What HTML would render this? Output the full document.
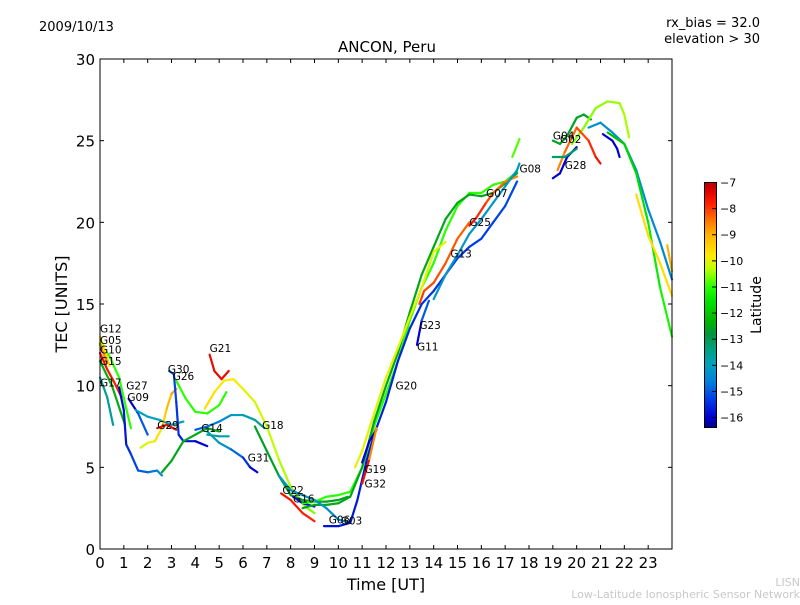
<!DOCTYPE html>
<html><head><meta charset="utf-8"><style>
body{margin:0;background:#fff;}
svg text{font-family:"DejaVu Sans","Liberation Sans",sans-serif;}
</style></head><body>
<svg id="chart" width="800" height="600" xmlns="http://www.w3.org/2000/svg">
<defs>
<linearGradient id="cbar" x1="0" y1="1" x2="0" y2="0"></linearGradient>
</defs>
<rect width="800" height="600" fill="#fff"/>
<text x="39" y="31" font-size="13">2009/10/13</text>
<text x="387" y="52" font-size="15" text-anchor="middle">ANCON, Peru</text>
<text x="760" y="27" font-size="13" text-anchor="end">rx_bias = 32.0</text>
<text x="760" y="43" font-size="13" text-anchor="end">elevation &gt; 30</text>
<g id="tracks"></g>
<g id="labels"></g>
<rect x="100" y="59" width="572" height="490" fill="none" stroke="#000" stroke-width="1"/>
<g id="axes"></g>
<text x="386" y="590" font-size="16" text-anchor="middle">Time [UT]</text>
<text x="67" y="304" font-size="16" text-anchor="middle" transform="rotate(-90 67 304)">TEC [UNITS]</text>
<rect x="704.5" y="182.5" width="12" height="245" fill="url(#cbar)" stroke="#000" stroke-width="1"/>
<g id="cbticks"></g>
<text x="761" y="305" font-size="14" text-anchor="middle" transform="rotate(-90 761 305)">Latitude</text>
<text x="800" y="586" font-size="11" fill="#c8c8c8" text-anchor="end">LISN</text>
<text x="800" y="598" font-size="11" fill="#c8c8c8" text-anchor="end">Low-Latitude Ionospheric Sensor Network</text>
</svg>
<script>
const xTicks=[0,1,2,3,4,5,6,7,8,9,10,11,12,13,14,15,16,17,18,19,20,21,22,23];
const yTicks=[0,5,10,15,20,25,30];
const cbTicks=[-7,-8,-9,-10,-11,-12,-13,-14,-15,-16];
const trackNames=["G12","G05","G10","G15","G17","G27a","G27","G09","G09b","G29a","G29","G30","G26","G26b","G21","G18a","G14","G18","G31","G14b","G22","G16","G20a","G20b","G06a","G06","G20","G19","G32","G11","G13","G25","G07","G08","G04","Gpk","Gdn1","Gdn2","Gdn3","G28","G02","Gpk2","G04b","Gend"];
const trackLats=[[-11,-11],[-9.6,-9.6],[-8.6,-8.6],[-7.6,-7.8],[-13.6,-13.6],[-12.4,-12.4],[-16,-14.5],[-16,-15],[-14,-14],[-10.2,-8.8],[-7.5,-7.5],[-15,-16],[-11,-11],[-12.5,-12.5],[-7.5,-7.5],[-9.6,-10.6],[-15,-13.5],[-12.6,-12.6],[-13.8,-16],[-13.8,-13.8],[-7.6,-7.8],[-15.8,-15.8],[-11,-11],[-12.5,-12.5],[-14.2,-14.5],[-15.8,-15.2],[-10,-10],[-16,-16],[-7.6,-8.6],[-16,-15],[-8,-8.3],[-7.6,-8.6],[-14.2,-14.2],[-10.8,-10.8],[-12.6,-12.6],[-10.6,-10.4],[-14.3,-14.5],[-12.2,-11.2],[-9.6,-9.6],[-8.6,-7.6],[-16,-16],[-16,-16],[-13.2,-13.2],[-9,-9]];
const trackTimes=[
[0,0.4,0.8,1.1,1.3],[0,0.2,0.4],[0,0.3],[0,0.3,0.6,0.9],[0,0.3,0.55],[0,0.5,1.05],
[0.8,1,1.1,1.3,1.6,2,2.4,2.6],[1.2,1.6,2],[1.5,2,2.5,3,3.5],
[1.7,2,2.3,2.6,2.8,3,3.2],[2.4,2.8,3.2],[2.9,3.1,3.2,3.3,3.5,4,4.5],
[3.2,3.6,4,4.5,5,5.3],[2.6,3,3.5,4,4.5,5],[4.6,4.8,5.1,5.4],
[4.4,4.8,5.2,5.6,6,6.5,7,7.5,8,8.6,9],[4,4.5,5,5.5,6,6.5,6.9],
[6.5,7,7.5,8,8.5,9,9.5,10,10.4],[4.5,5,5.5,6,6.3,6.6],[4.5,5,5.4],
[7.6,8,8.5,9],[8.1,8.5,9],
[8.5,9,9.5,10,10.5,11,11.5,12,12.5,13,13.5,14,14.5,15,15.5,16,16.5,17,17.5],
[8.5,9,9.5,10,10.5,11,11.5,12,12.5,13,13.5,14,14.5,15,15.5,16,16.5,17,17.5],
[7.5,8,9,9.5,10,10.5],
[9.4,10,10.5,10.8,11.2,11.5,12,12.5,13,13.5,14,14.5,15,15.5,16,16.5,17,17.5],
[10.7,11,11.5,12,12.5,13,13.5,14,14.5],
[11,11.3,11.6],[11,11.3,11.6],[13.3,13.5,13.8],[13.4,13.6,14,14.5,15,15.5],
[15.5,15.8,16.2,16.5,17,17.5],[14,14.5,15,15.5,16,16.5,17,17.5,17.6],[17.3,17.6],
[19,19.3,19.6,20,20.3,20.6],[19.8,20.3,20.8,21.3,21.8,22,22.2],
[20.5,21,21.5,22,22.5,23,23.5,24],[21.3,21.7,22,22.5,23,23.5,24],[22.5,23,23.5,24],
[19.2,19.5,20,20.5,20.8,21],[19,19.3,19.6,20],[21.1,21.5,21.7,21.8],[19,19.5,20],[23.8,24]];
const trackTec=[
[12.6,11.8,10.5,8.6,7.4],[13,12.2,11.2],[12.5,11.4],[12,11,10.2,9.3],[10.5,9.3,7.6],[11.5,10,7.6],
[9.9,8.5,6.4,5.8,4.8,4.7,4.8,4.5],[9.2,8.3,7],[8.5,8.1,7.9,7.6,7.8],
[6.2,6.5,6.6,7.4,8.6,9.5,9.8],[7.4,7.6,7.3],[10.9,10.7,9,7,6.6,6.6,6.3],
[10.3,9.2,8.4,8.3,8.8,9.6],[4.7,5.4,6.6,7,7.4,7.2],[11.9,10.9,10.4,10.9],
[8.6,9.6,10.3,10.4,9.8,9,7.5,5.5,3.8,2.6,2.2],[7.3,7.5,7.8,8.2,8.2,7.9,7.4],
[7.5,6,4.5,3.3,3,2.9,2.9,3,3.2],[7.2,6.5,6.1,5.6,5,4.7],[7,6.9,6.9],
[3.4,3,2.2,1.7],[3.2,2.8,2.6],
[2.8,2.9,3.2,3.3,3.5,5,7.5,9.5,11.5,14,16,17.5,19.5,21,21.8,21.8,22.3,22.5,23.1],
[2.5,2.7,2.7,2.8,3.2,5,7.8,10,12,14.5,16.8,18.5,20.2,21.2,21.7,21.6,21.8,22.4,23],
[4.5,3.6,3,2.5,1.8,1.6],
[1.4,1.4,1.6,3,5.5,7,9,11.5,13.5,15,15.8,16.8,17.8,18.5,19,20,21,22.5],
[5,6,8.3,10.5,12.3,14.2,16,18.2,18.8],
[5.3,6.6,7.3],[4,5.5,7.4],[12.5,14,15.2],[15,15.8,16.3,17.5,19,20],
[19.8,20.3,21.2,21.8,22.5,22.8],[15.3,16.8,18,19.3,20.2,21.2,22.2,23.2,23.6],[24,25.1],
[25,24.8,25.3,26.4,26.6,26.3],[24.8,25.8,27,27.4,27.3,26.6,25.2],
[25.8,26.1,25.5,24.8,23.2,20.8,18.8,16.5],[25.5,25.1,24.8,23,20,16,13],[21.7,19.2,17.5,15.5],
[23.2,24.3,25.8,25,24,23.6],[22.7,23,24,24.6],[25.4,25,24.5,24],[24,24,24.5],[18.6,17]];
const labelNames=["G12","G05","G10","G15","G17","G27","G09","G30","G26","G29","G21","G14","G18","G31","G22","G16","G06","G03","G19","G32","G20","G11","G23","G13","G25","G07","G08","G04","G02","G28"];
const labelT=[0,0,0,0,0,1.1,1.15,2.85,3.05,2.4,4.6,4.25,6.8,6.2,7.65,8.1,9.6,10.1,11.1,11.1,12.4,13.3,13.4,14.7,15.5,16.2,17.6,19,19.3,19.5];
const labelV=[13.2,12.5,11.9,11.2,9.9,9.7,9.0,10.7,10.3,7.3,12.0,7.1,7.3,5.3,3.3,2.8,1.5,1.45,4.6,3.7,9.7,12.1,13.4,17.8,19.7,21.5,23.0,25.0,24.8,23.2];
const X=t=>100+t*572/24, Y=v=>549-v*490/30;
const latMin=-16.38, latMax=-7;
const cmap=[[-16.4,[0,0,140]],[-16,[0,0,210]],[-15.3,[0,60,230]],[-14.6,[0,130,220]],[-14,[0,160,190]],[-13.4,[0,160,130]],[-12.8,[0,150,60]],[-12.3,[0,180,0]],[-11.5,[0,230,0]],[-11,[40,255,0]],[-10.3,[190,255,0]],[-9.8,[255,235,0]],[-9,[255,180,0]],[-8.4,[255,110,0]],[-7.8,[255,30,0]],[-7.3,[220,0,0]],[-7,[180,0,0]]];
function col(l){if(l<=cmap[0][0])return `rgb(${cmap[0][1]})`;for(let i=1;i<cmap.length;i++){if(l<=cmap[i][0]){const a=cmap[i-1],b=cmap[i],f=(l-a[0])/(b[0]-a[0]);return `rgb(${a[1].map((c,k)=>Math.round(c+(b[1][k]-c)*f)).join(',')})`;}}return `rgb(${cmap[cmap.length-1][1]})`;}
const NS='http://www.w3.org/2000/svg';
function mk(tag,attrs,parent){const e=document.createElementNS(NS,tag);for(const k in attrs)e.setAttribute(k,attrs[k]);parent.appendChild(e);return e;}
const grad=document.getElementById('cbar');
cmap.forEach(s=>{mk('stop',{offset:((s[0]-latMin)/(latMax-latMin)).toFixed(3),'stop-color':col(s[0])},grad);});
const tg=document.getElementById('tracks');
trackTimes.forEach((ts,i)=>{const vs=trackTec[i],la=trackLats[i];
 const g=mk('g',{},tg);
 
 
 for(let j=0;j<ts.length-1;j++){const f=ts.length>2?j/(ts.length-2):0;const l=la[0]+(la[1]-la[0])*f;
  mk('line',{x1:X(ts[j]),y1:Y(vs[j]),x2:X(ts[j+1]),y2:Y(vs[j+1]),stroke:col(l),'stroke-width':2.2,'stroke-linecap':'round'},g);}
});
const lg=document.getElementById('labels');
labelNames.forEach((n,i)=>{const t=mk('text',{x:X(labelT[i]),y:Y(labelV[i])-1,'font-size':10.5},lg);t.textContent=n;
 
 });
const ax=document.getElementById('axes');
xTicks.forEach(t=>{const x=X(t);mk('line',{x1:x,y1:549,x2:x,y2:545,stroke:'#000'},ax);mk('line',{x1:x,y1:59,x2:x,y2:63,stroke:'#000'},ax);
 const tx=mk('text',{x:x,y:568,'font-size':15,'text-anchor':'middle'},ax);tx.textContent=t;
 
 });
yTicks.forEach(v=>{const y=Y(v);mk('line',{x1:100,y1:y,x2:104,y2:y,stroke:'#000'},ax);mk('line',{x1:672,y1:y,x2:668,y2:y,stroke:'#000'},ax);
 const tx=mk('text',{x:95,y:y+6,'font-size':15,'text-anchor':'end'},ax);tx.textContent=v;
 
 });
const cb=document.getElementById('cbticks');
cbTicks.forEach(l=>{const y=182.5+(latMax-l)/(latMax-latMin)*245;mk('line',{x1:712,y1:y,x2:716.5,y2:y,stroke:'#000'},cb);
 const tx=mk('text',{x:720,y:y+4,'font-size':11},cb);tx.textContent='\u2212'+Math.abs(l);
 
 });
</script>
</body></html>
